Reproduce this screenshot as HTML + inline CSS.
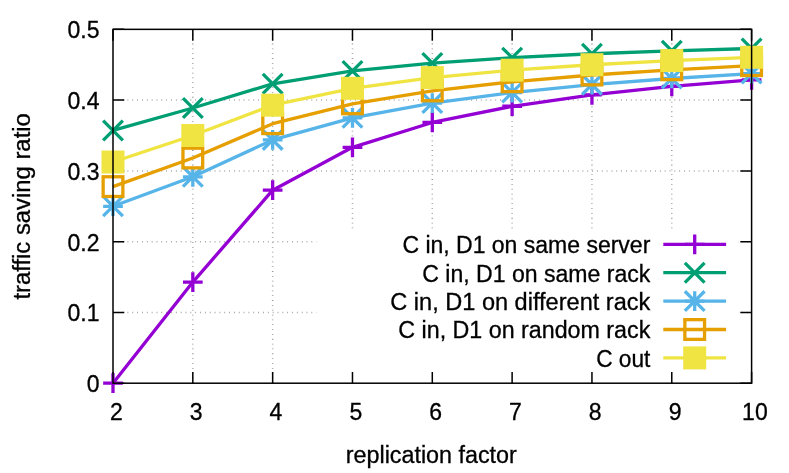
<!DOCTYPE html>
<html><head><meta charset="utf-8"><title>traffic saving ratio</title>
<style>
html,body{margin:0;padding:0;background:#fff;}
svg{display:block;will-change:transform;}
text{font-family:"Liberation Sans",sans-serif;fill:#000;stroke:#000;stroke-width:0.3px;}
</style></head><body>
<svg width="789" height="473" viewBox="0 0 789 473">
<rect width="789" height="473" fill="#fff"/>
<g stroke="#979797" stroke-width="1.5" stroke-dasharray="0.8 4.04" fill="none">
<path d="M113.00 312.43H751.60"/>
<path d="M113.00 241.66H751.60"/>
<path d="M113.00 170.89H751.60"/>
<path d="M113.00 100.12H751.60"/>
<path d="M192.82 383.20V29.35"/>
<path d="M272.65 383.20V29.35"/>
<path d="M352.48 383.20V29.35"/>
<path d="M432.30 383.20V29.35"/>
<path d="M512.12 383.20V29.35"/>
<path d="M591.95 383.20V29.35"/>
<path d="M671.77 383.20V29.35"/>
</g>
<rect x="316.3" y="230.8" width="421.7" height="151.4" fill="#fff"/>
<g stroke="#000" stroke-width="1.5" fill="none">
<path d="M113.00 383.20h11.3M751.60 383.20h-11.3"/>
<path d="M113.00 312.43h11.3M751.60 312.43h-11.3"/>
<path d="M113.00 241.66h11.3M751.60 241.66h-11.3"/>
<path d="M113.00 170.89h11.3M751.60 170.89h-11.3"/>
<path d="M113.00 100.12h11.3M751.60 100.12h-11.3"/>
<path d="M113.00 29.35h11.3M751.60 29.35h-11.3"/>
<path d="M113.00 383.20v-11.3M113.00 29.35v11.3"/>
<path d="M192.82 383.20v-11.3M192.82 29.35v11.3"/>
<path d="M272.65 383.20v-11.3M272.65 29.35v11.3"/>
<path d="M352.48 383.20v-11.3M352.48 29.35v11.3"/>
<path d="M432.30 383.20v-11.3M432.30 29.35v11.3"/>
<path d="M512.12 383.20v-11.3M512.12 29.35v11.3"/>
<path d="M591.95 383.20v-11.3M591.95 29.35v11.3"/>
<path d="M671.77 383.20v-11.3M671.77 29.35v11.3"/>
<path d="M751.60 383.20v-11.3M751.60 29.35v11.3"/>
</g>
<g stroke="#9400D3" stroke-width="3.3" fill="none">
<path d="M663.3 244.3H726.1"/>
<path d="M684.85 244.30H704.55M694.70 234.45V254.15"/>
<polyline points="113.00,383.20 192.82,282.10 272.65,190.19 352.48,147.30 432.30,122.47 512.12,106.27 591.95,94.88 671.77,86.42 751.60,79.90" stroke-linejoin="round"/>
<path d="M103.15 383.20H122.85M113.00 373.35V393.05"/>
<path d="M182.97 282.10H202.67M192.82 272.25V291.95"/>
<path d="M262.80 190.19H282.50M272.65 180.34V200.04"/>
<path d="M342.62 147.30H362.33M352.48 137.45V157.15"/>
<path d="M422.45 122.47H442.15M432.30 112.62V132.32"/>
<path d="M502.27 106.27H521.98M512.12 96.42V116.12"/>
<path d="M582.10 94.88H601.80M591.95 85.03V104.73"/>
<path d="M661.92 86.42H681.62M671.77 76.57V96.27"/>
<path d="M741.75 79.90H761.45M751.60 70.05V89.75"/>
</g>
<g stroke="#009E73" stroke-width="3.3" fill="none">
<path d="M663.3 272.7H726.1"/>
<path d="M684.85 262.85L704.55 282.55M684.85 282.55L704.55 262.85"/>
<polyline points="113.00,130.45 192.82,107.98 272.65,83.79 352.48,70.98 432.30,63.05 512.12,57.66 591.95,53.75 671.77,50.80 751.60,48.48" stroke-linejoin="round"/>
<path d="M103.15 120.60L122.85 140.30M103.15 140.30L122.85 120.60"/>
<path d="M182.97 98.13L202.67 117.83M182.97 117.83L202.67 98.13"/>
<path d="M262.80 73.94L282.50 93.64M262.80 93.64L282.50 73.94"/>
<path d="M342.62 61.13L362.33 80.83M342.62 80.83L362.33 61.13"/>
<path d="M422.45 53.20L442.15 72.90M422.45 72.90L442.15 53.20"/>
<path d="M502.27 47.81L521.98 67.51M502.27 67.51L521.98 47.81"/>
<path d="M582.10 43.90L601.80 63.60M582.10 63.60L601.80 43.90"/>
<path d="M661.92 40.95L681.62 60.65M661.92 60.65L681.62 40.95"/>
<path d="M741.75 38.63L761.45 58.33M741.75 58.33L761.45 38.63"/>
</g>
<g stroke="#56B4E9" stroke-width="3.3" fill="none">
<path d="M663.3 301.1H726.1"/>
<path d="M684.85 301.10H704.55M694.70 291.25V310.95M684.85 291.25L704.55 310.95M684.85 310.95L704.55 291.25"/>
<polyline points="113.00,206.28 192.82,176.79 272.65,139.93 352.48,117.81 432.30,103.07 512.12,92.54 591.95,84.64 671.77,78.50 751.60,73.58" stroke-linejoin="round"/>
<path d="M103.15 206.28H122.85M113.00 196.43V216.12M103.15 196.43L122.85 216.12M103.15 216.12L122.85 196.43"/>
<path d="M182.97 176.79H202.67M192.82 166.94V186.64M182.97 166.94L202.67 186.64M182.97 186.64L202.67 166.94"/>
<path d="M262.80 139.93H282.50M272.65 130.08V149.78M262.80 130.08L282.50 149.78M262.80 149.78L282.50 130.08"/>
<path d="M342.62 117.81H362.33M352.48 107.96V127.66M342.62 107.96L362.33 127.66M342.62 127.66L362.33 107.96"/>
<path d="M422.45 103.07H442.15M432.30 93.22V112.92M422.45 93.22L442.15 112.92M422.45 112.92L442.15 93.22"/>
<path d="M502.27 92.54H521.98M512.12 82.69V102.39M502.27 82.69L521.98 102.39M502.27 102.39L521.98 82.69"/>
<path d="M582.10 84.64H601.80M591.95 74.79V94.49M582.10 74.79L601.80 94.49M582.10 94.49L601.80 74.79"/>
<path d="M661.92 78.50H681.62M671.77 68.65V88.35M661.92 68.65L681.62 88.35M661.92 88.35L681.62 68.65"/>
<path d="M741.75 73.58H761.45M751.60 63.73V83.43M741.75 63.73L761.45 83.43M741.75 83.43L761.45 63.73"/>
</g>
<g stroke="#E69F00" stroke-width="3.3" fill="none">
<path d="M663.3 329.5H726.1"/>
<rect x="684.85" y="319.65" width="19.70" height="19.70"/>
<polyline points="113.00,186.62 192.82,158.02 272.65,123.71 352.48,103.84 432.30,90.89 512.12,81.77 591.95,75.01 671.77,69.79 751.60,65.64" stroke-linejoin="round"/>
<rect x="103.15" y="176.77" width="19.70" height="19.70"/>
<rect x="182.97" y="148.17" width="19.70" height="19.70"/>
<rect x="262.80" y="113.86" width="19.70" height="19.70"/>
<rect x="342.62" y="93.99" width="19.70" height="19.70"/>
<rect x="422.45" y="81.04" width="19.70" height="19.70"/>
<rect x="502.27" y="71.92" width="19.70" height="19.70"/>
<rect x="582.10" y="65.16" width="19.70" height="19.70"/>
<rect x="661.92" y="59.94" width="19.70" height="19.70"/>
<rect x="741.75" y="55.79" width="19.70" height="19.70"/>
</g>
<g stroke="#F0E442" stroke-width="3.3" fill="none">
<path d="M663.3 357.9H726.1"/>
<rect x="684.85" y="348.05" width="19.70" height="19.70" fill="#F0E442"/>
<polyline points="113.00,162.04 192.82,135.51 272.65,105.18 352.48,88.32 432.30,77.60 512.12,70.18 591.95,64.74 671.77,60.57 751.60,57.29" stroke-linejoin="round"/>
<rect x="103.15" y="152.19" width="19.70" height="19.70" fill="#F0E442"/>
<rect x="182.97" y="125.66" width="19.70" height="19.70" fill="#F0E442"/>
<rect x="262.80" y="95.33" width="19.70" height="19.70" fill="#F0E442"/>
<rect x="342.62" y="78.47" width="19.70" height="19.70" fill="#F0E442"/>
<rect x="422.45" y="67.75" width="19.70" height="19.70" fill="#F0E442"/>
<rect x="502.27" y="60.33" width="19.70" height="19.70" fill="#F0E442"/>
<rect x="582.10" y="54.89" width="19.70" height="19.70" fill="#F0E442"/>
<rect x="661.92" y="50.72" width="19.70" height="19.70" fill="#F0E442"/>
<rect x="741.75" y="47.44" width="19.70" height="19.70" fill="#F0E442"/>
</g>
<text x="650.3" y="253.2" font-size="23" text-anchor="end" textLength="247.9" lengthAdjust="spacingAndGlyphs">C in, D1 on same server</text>
<text x="650.3" y="281.6" font-size="23" text-anchor="end" textLength="228.0" lengthAdjust="spacingAndGlyphs">C in, D1 on same rack</text>
<text x="650.3" y="310.0" font-size="23" text-anchor="end" textLength="260.0" lengthAdjust="spacingAndGlyphs">C in, D1 on different rack</text>
<text x="650.3" y="338.4" font-size="23" text-anchor="end" textLength="252.0" lengthAdjust="spacingAndGlyphs">C in, D1 on random rack</text>
<text x="650.3" y="366.8" font-size="23" text-anchor="end" textLength="54.1" lengthAdjust="spacingAndGlyphs">C out</text>
<rect x="113.0" y="29.35" width="638.60" height="353.85" fill="none" stroke="#000" stroke-width="1.5"/>
<text x="99.5" y="392.1" font-size="23" text-anchor="end">0</text>
<text x="99.5" y="321.3" font-size="23" text-anchor="end">0.1</text>
<text x="99.5" y="250.6" font-size="23" text-anchor="end">0.2</text>
<text x="99.5" y="179.8" font-size="23" text-anchor="end">0.3</text>
<text x="99.5" y="109.0" font-size="23" text-anchor="end">0.4</text>
<text x="99.5" y="38.3" font-size="23" text-anchor="end">0.5</text>
<text x="116.3" y="420.2" font-size="23" text-anchor="middle">2</text>
<text x="196.1" y="420.2" font-size="23" text-anchor="middle">3</text>
<text x="275.9" y="420.2" font-size="23" text-anchor="middle">4</text>
<text x="355.8" y="420.2" font-size="23" text-anchor="middle">5</text>
<text x="435.6" y="420.2" font-size="23" text-anchor="middle">6</text>
<text x="515.4" y="420.2" font-size="23" text-anchor="middle">7</text>
<text x="595.2" y="420.2" font-size="23" text-anchor="middle">8</text>
<text x="675.1" y="420.2" font-size="23" text-anchor="middle">9</text>
<text x="754.9" y="420.2" font-size="23" text-anchor="middle">10</text>
<text x="431.3" y="462.6" font-size="23" text-anchor="middle" textLength="171" lengthAdjust="spacingAndGlyphs">replication factor</text>
<text transform="translate(30.4 206.4) rotate(-90)" font-size="23" text-anchor="middle" textLength="186.4" lengthAdjust="spacingAndGlyphs">traffic saving ratio</text>
</svg></body></html>
